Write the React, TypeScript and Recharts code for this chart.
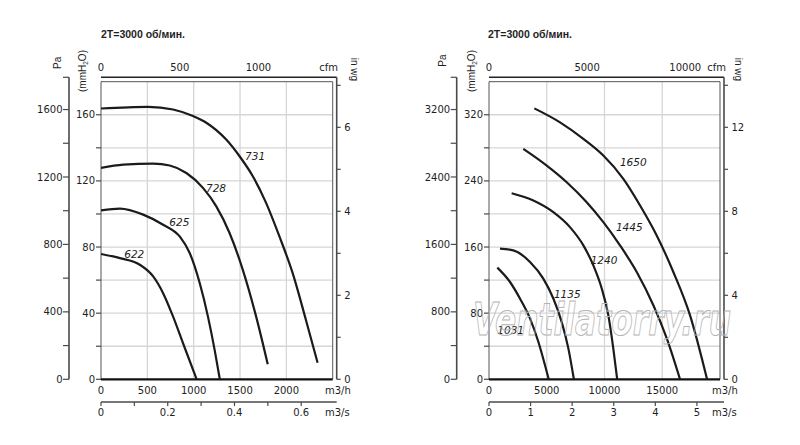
import React from 'react';
import { LineChart, Line, XAxis, YAxis, ReferenceLine, ReferenceDot } from 'recharts';

// unit conversions used for the secondary axes
const PA_PER_MM = 9.80665;
const MM_PER_INWG = 25.4;
const M3H_PER_CFM = 1.699;
const M3H_PER_M3S = 3600;

type Pt = { q: number; p: number }; // q in m3/h, p in mmH2O

// ---- left panel: 622 .. 731 ----
const fan731: Pt[] = [
  { q: 0, p: 163.8 }, { q: 509, p: 164.8 }, { q: 778, p: 163.2 }, { q: 993, p: 159.2 },
  { q: 1136, p: 155.2 }, { q: 1351, p: 145 }, { q: 1495, p: 134.9 }, { q: 1638, p: 122.8 },
  { q: 1781, p: 106.7 }, { q: 1925, p: 86.4 }, { q: 2068, p: 64.2 }, { q: 2211, p: 35.9 },
  { q: 2337, p: 10 },
];
const fan728: Pt[] = [
  { q: 0, p: 127.9 }, { q: 240, p: 129.9 }, { q: 563, p: 130.5 }, { q: 742, p: 129.3 },
  { q: 921, p: 124.8 }, { q: 1100, p: 115.8 }, { q: 1244, p: 104.6 }, { q: 1387, p: 88.5 },
  { q: 1530, p: 66.2 }, { q: 1674, p: 37.9 }, { q: 1799, p: 9.1 },
];
const fan625: Pt[] = [
  { q: 0, p: 102.2 }, { q: 204, p: 103.2 }, { q: 455, p: 99.6 }, { q: 670, p: 93.5 },
  { q: 849, p: 86.4 }, { q: 957, p: 76.4 }, { q: 1065, p: 58.2 }, { q: 1154, p: 37.9 },
  { q: 1226, p: 17.8 }, { q: 1282, p: 0 },
];
const fan622: Pt[] = [
  { q: 0, p: 75.8 }, { q: 204, p: 73.3 }, { q: 419, p: 69.3 }, { q: 563, p: 62.2 },
  { q: 670, p: 52.1 }, { q: 778, p: 37.9 }, { q: 885, p: 21.8 }, { q: 1032, p: 0 },
];

// ---- right panel: 1031 .. 1650 ----
const fan1650: Pt[] = [
  { q: 3925, p: 327.7 }, { q: 6150, p: 310.8 }, { q: 8170, p: 290.8 }, { q: 9900, p: 270.6 },
  { q: 11630, p: 242.5 }, { q: 13080, p: 210.3 }, { q: 14520, p: 174 }, { q: 15960, p: 129.8 },
  { q: 17400, p: 77.6 }, { q: 18880, p: 0 },
];
const fan1445: Pt[] = [
  { q: 2970, p: 278.7 }, { q: 5000, p: 258.5 }, { q: 6730, p: 238.4 }, { q: 8460, p: 214.2 },
  { q: 9900, p: 190.1 }, { q: 11340, p: 162 }, { q: 12790, p: 129.8 }, { q: 14230, p: 89.6 },
  { q: 15390, p: 49.5 }, { q: 16540, p: 0 },
];
const fan1240: Pt[] = [
  { q: 1960, p: 225 }, { q: 3840, p: 216.3 }, { q: 5570, p: 202.2 }, { q: 7010, p: 184.1 },
  { q: 8170, p: 162 }, { q: 9030, p: 137.9 }, { q: 9760, p: 109.8 }, { q: 10330, p: 77.6 },
  { q: 10760, p: 37.4 }, { q: 11100, p: 0 },
];
const fan1135: Pt[] = [
  { q: 950, p: 158 }, { q: 2100, p: 156 }, { q: 3550, p: 141.9 }, { q: 4700, p: 121.8 },
  { q: 5570, p: 97.7 }, { q: 6290, p: 69.5 }, { q: 6870, p: 37.4 }, { q: 7350, p: 0 },
];
const fan1031: Pt[] = [
  { q: 720, p: 135.1 }, { q: 1820, p: 117.7 }, { q: 2680, p: 97.7 }, { q: 3550, p: 73.6 },
  { q: 4270, p: 45.4 }, { q: 5170, p: 0 },
];

// curve names and where their tag sits (m3/h, mmH2O)
const leftTags = [
  { text: '731', q: 1662, p: 135.2 },
  { text: '728', q: 1241, p: 115.5 },
  { text: '625', q: 845, p: 95.3 },
  { text: '622', q: 359, p: 75.8 },
];
const rightTags = [
  { text: '1650', q: 12494, p: 262.5 },
  { text: '1445', q: 12147, p: 183.4 },
  { text: '1240', q: 9957, p: 144.3 },
  { text: '1135', q: 6779, p: 103.2 },
  { text: '1031', q: 1879, p: 59.3 },
];

// ticks
const leftM3h = [0, 500, 1000, 1500, 2000];
const leftM3s = [0, 0.1, 0.2, 0.3, 0.4, 0.5, 0.6];
const leftM3sLabels = [0, 0.2, 0.4, 0.6];
const leftCfm = [0, 500, 1000];
const leftMm = [0, 20, 40, 60, 80, 100, 120, 140, 160];
const leftMmLabels = [0, 40, 80, 120, 160];
const leftPa = [0, 200, 400, 600, 800, 1000, 1200, 1400, 1600];
const leftPaLabels = [0, 400, 800, 1200, 1600];
const leftInwg = [0, 1, 2, 3, 4, 5, 6, 7];
const leftInwgLabels = [0, 2, 4, 6];

const rightM3h = [0, 5000, 10000, 15000];
const rightM3s = [0, 1, 2, 3, 4, 5];
const rightCfm = [0, 5000, 10000];
const rightMm = [0, 40, 80, 120, 160, 200, 240, 280, 320];
const rightMmLabels = [0, 80, 160, 240, 320];
const rightPa = [0, 400, 800, 1200, 1600, 2000, 2400, 2800, 3200];
const rightPaLabels = [0, 800, 1600, 2400, 3200];
const rightInwg = [0, 2, 4, 6, 8, 10, 12, 14];
const rightInwgLabels = [0, 4, 8, 12];

const NUM_FONT = 'DejaVu Sans, Verdana, sans-serif';
const INK = '#1e1e1e';
const AXIS = '#4a4a4a';
const GRID = '#d6d6d6';

const makeTick = (labels: number[], anchor: 'start' | 'middle' | 'end', dy: number) => (props: any) => {
  const { x, y, payload } = props;
  const v = payload.value;
  if (!labels.some((l) => Math.abs(l - v) < 1e-9)) return <g />;
  return (
    <text x={x} y={y + dy} textAnchor={anchor} fontSize={10} fontFamily={NUM_FONT} fill={INK}>
      {String(v)}
    </text>
  );
};

interface PanelProps {
  curves: Pt[][];
  tags: { text: string; q: number; p: number }[];
  xMax: number; xTop: number; yMax: number; yTop: number;
  m3h: number[]; m3s: number[]; m3sLabels: number[]; cfm: number[];
  mm: number[]; mmLabels: number[]; pa: number[]; paLabels: number[];
  inwg: number[]; inwgLabels: number[];
  margin: { top: number; right: number; bottom: number; left: number };
  mmWidth: number;
}

function FanPanel(props: PanelProps) {
  const { curves, tags, xMax, xTop, yMax, yTop, margin, mmWidth } = props;
  const paTop = yTop * PA_PER_MM;
  // the same first curve, expressed in the secondary units, keeps those axes bound to data
  const inCfm = curves[0].map((d) => ({ q: d.q / M3H_PER_CFM, p: d.p / MM_PER_INWG }));
  const inM3s = curves[0].map((d) => ({ q: d.q / M3H_PER_M3S, p: d.p * PA_PER_MM }));
  return (
    <LineChart width={400} height={445} margin={margin}>
      <XAxis xAxisId="m3h" dataKey="q" type="number" domain={[0, xTop]} allowDataOverflow ticks={props.m3h} interval={0}
        orientation="bottom" height={22.7} axisLine={false} tickLine={false} tickSize={0} tickMargin={0}
        tick={makeTick(props.m3h, 'middle', 14.2)} />
      <XAxis xAxisId="m3s" dataKey="q" type="number" domain={[0, xTop / M3H_PER_M3S]} allowDataOverflow ticks={props.m3s} interval={0}
        orientation="bottom" height={22} axisLine={{ stroke: AXIS, strokeWidth: 1.4 }}
        tickLine={{ stroke: AXIS, strokeWidth: 1.2 }} tickSize={4} tickMargin={2}
        tick={makeTick(props.m3sLabels, 'middle', 7.5)} />
      <XAxis xAxisId="cfm" dataKey="q" type="number" domain={[0, xTop / M3H_PER_CFM]} allowDataOverflow ticks={props.cfm} interval={0}
        orientation="top" height={25} axisLine={{ stroke: '#222', strokeWidth: 1.6 }} tickLine={false}
        tickSize={0} tickMargin={0} tick={makeTick(props.cfm, 'middle', -6.6)} />
      <YAxis yAxisId="mm" type="number" domain={[0, yTop]} allowDataOverflow ticks={props.mm} interval={0} orientation="left"
        width={mmWidth} axisLine={false} tickLine={{ stroke: AXIS, strokeWidth: 1.2 }} tickSize={5} tickMargin={1}
        tick={makeTick(props.mmLabels, 'end', 3.6)} />
      <YAxis yAxisId="pa" type="number" domain={[0, paTop]} allowDataOverflow ticks={[...props.pa, paTop]} interval={0}
        orientation="left" width={40} axisLine={{ stroke: AXIS, strokeWidth: 1.6 }}
        tickLine={{ stroke: AXIS, strokeWidth: 1.2 }} tickSize={6} tickMargin={0.5}
        tick={makeTick(props.paLabels, 'end', 3.6)} />
      <YAxis yAxisId="inwg" type="number" domain={[0, yTop / MM_PER_INWG]} allowDataOverflow ticks={props.inwg} interval={0}
        orientation="right" width={30} axisLine={{ stroke: AXIS, strokeWidth: 1.6 }}
        tickLine={{ stroke: AXIS, strokeWidth: 1.2 }} tickSize={4} tickMargin={3.5}
        tick={makeTick(props.inwgLabels, 'start', 3.6)} />

      {props.m3h.filter((v) => v > 0).map((v) => (
        <ReferenceLine key={'gx' + v} xAxisId="m3h" yAxisId="mm" segment={[{ x: v, y: 0 }, { x: v, y: yMax }]}
          stroke={GRID} strokeWidth={1.3} />
      ))}
      {props.mm.filter((v) => v > 0).map((v) => (
        <ReferenceLine key={'gy' + v} xAxisId="m3h" yAxisId="mm" segment={[{ x: 0, y: v }, { x: xMax, y: v }]}
          stroke={GRID} strokeWidth={1.3} />
      ))}
      <ReferenceLine xAxisId="m3h" yAxisId="mm" segment={[{ x: 0, y: yMax }, { x: xMax, y: yMax }]} stroke="#555" strokeWidth={1} />
      <ReferenceLine xAxisId="m3h" yAxisId="mm" segment={[{ x: 0, y: 0 }, { x: 0, y: yMax }]} stroke="#555" strokeWidth={1} />
      <ReferenceLine xAxisId="m3h" yAxisId="mm" segment={[{ x: xMax, y: 0 }, { x: xMax, y: yMax }]} stroke="#555" strokeWidth={1} />
      <ReferenceLine xAxisId="m3h" yAxisId="mm" segment={[{ x: 0, y: 0 }, { x: xMax, y: 0 }]} stroke="#111" strokeWidth={2.2} />

      <Line xAxisId="cfm" yAxisId="inwg" data={inCfm} dataKey="p" type="monotone" stroke="none" strokeOpacity={0}
        dot={false} activeDot={false} isAnimationActive={false} />
      <Line xAxisId="m3s" yAxisId="pa" data={inM3s} dataKey="p" type="monotone" stroke="none" strokeOpacity={0}
        dot={false} activeDot={false} isAnimationActive={false} />
      {curves.map((c, i) => (
        <Line key={i} xAxisId="m3h" yAxisId="mm" data={c} dataKey="p" type="monotone" stroke="#1b1b1b"
          strokeWidth={2.2} dot={false} activeDot={false} isAnimationActive={false} />
      ))}
      {tags.map((t) => (
        <ReferenceDot key={t.text} xAxisId="m3h" yAxisId="mm" x={t.q} y={t.p} r={0}
          shape={(s: any) => (
            <text x={s.cx} y={s.cy + 3.8} textAnchor="middle" fontSize={10.5} fontStyle="italic"
              fontFamily={NUM_FONT} fill={INK}>{t.text}</text>
          )} />
      ))}
    </LineChart>
  );
}

const TITLE = '2T=3000 об/мин.';

function Overlay() {
  const lbl = { fontSize: 10, fontFamily: NUM_FONT, fill: INK } as const;
  const side = (x: number, y: number, rot: number, text: React.ReactNode, key: string, size = 10) => (
    <text key={key} x={x} y={y} transform={`rotate(${rot} ${x} ${y})`} textAnchor="middle"
      fontSize={size} fontFamily="Liberation Sans, Arial, sans-serif" fill={INK}>{text}</text>
  );
  const mmh2o = (
    <>
      (mmH<tspan fontSize={6.5} dy={2}>2</tspan><tspan dy={-2}>O)</tspan>
    </>
  );
  return (
    <svg width={800} height={445} style={{ position: 'absolute', left: 0, top: 0, pointerEvents: 'none' }}>
      <text x={101} y={37.5} fontSize={10.5} fontWeight="bold" fontFamily="Liberation Sans, Arial, sans-serif" fill={INK}>{TITLE}</text>
      <text x={488} y={37.5} fontSize={10.5} fontWeight="bold" fontFamily="Liberation Sans, Arial, sans-serif" fill={INK}>{TITLE}</text>
      {side(61, 62.8, -90, 'Pa', 'pa1')}
      {side(445.5, 60.5, -90, 'Pa', 'pa2')}
      {side(86, 71, -90, mmh2o, 'mm1')}
      {side(475, 71, -90, mmh2o, 'mm2')}
      {side(350.5, 69.5, 90, 'in wg', 'iw1')}
      {side(734.5, 69.5, 90, 'in wg', 'iw2')}
      <text x={319.3} y={70.7} {...lbl}>cfm</text>
      <text x={707.3} y={70.7} {...lbl}>cfm</text>
      <text x={325} y={393.5} {...lbl}>m3/h</text>
      <text x={712} y={393.5} {...lbl}>m3/h</text>
      <text x={325} y={415.5} {...lbl}>m3/s</text>
      <text x={712} y={415.5} {...lbl}>m3/s</text>
      <text x={473} y={335} fontSize={44} fontStyle="italic" fontWeight="bold" fontFamily={NUM_FONT}
        textLength={258} lengthAdjust="spacingAndGlyphs" fill="none" stroke="#b4b4b4" strokeWidth={1}>
        Ventilatorry.ru
      </text>
    </svg>
  );
}

export default function App() {
  return (
    <div style={{ position: 'absolute', left: 0, top: 0, width: 800, height: 445, background: '#fff', overflow: 'hidden' }}>
      <div style={{ position: 'absolute', left: 0, top: 0 }}>
        <FanPanel
          curves={[fan731, fan728, fan625, fan622]} tags={leftTags}
          xMax={2500} xTop={2543} yMax={180} yTop={182.66}
          m3h={leftM3h} m3s={leftM3s} m3sLabels={leftM3sLabels} cfm={leftCfm}
          mm={leftMm} mmLabels={leftMmLabels} pa={leftPa} paLabels={leftPaLabels}
          inwg={leftInwg} inwgLabels={leftInwgLabels}
          margin={{ top: 52.3, right: 33.3, bottom: 21, left: 29 }} mmWidth={32}
        />
      </div>
      <div style={{ position: 'absolute', left: 400, top: 0 }}>
        <FanPanel
          curves={[fan1650, fan1445, fan1240, fan1135, fan1031]} tags={rightTags}
          xMax={20000} xTop={20346} yMax={360} yTop={365.3}
          m3h={rightM3h} m3s={rightM3s} m3sLabels={rightM3s} cfm={rightCfm}
          mm={rightMm} mmLabels={rightMmLabels} pa={rightPa} paLabels={rightPaLabels}
          inwg={rightInwg} inwgLabels={rightInwgLabels}
          margin={{ top: 52.3, right: 46, bottom: 21, left: 16.7 }} mmWidth={32.3}
        />
      </div>
      <Overlay />
    </div>
  );
}
